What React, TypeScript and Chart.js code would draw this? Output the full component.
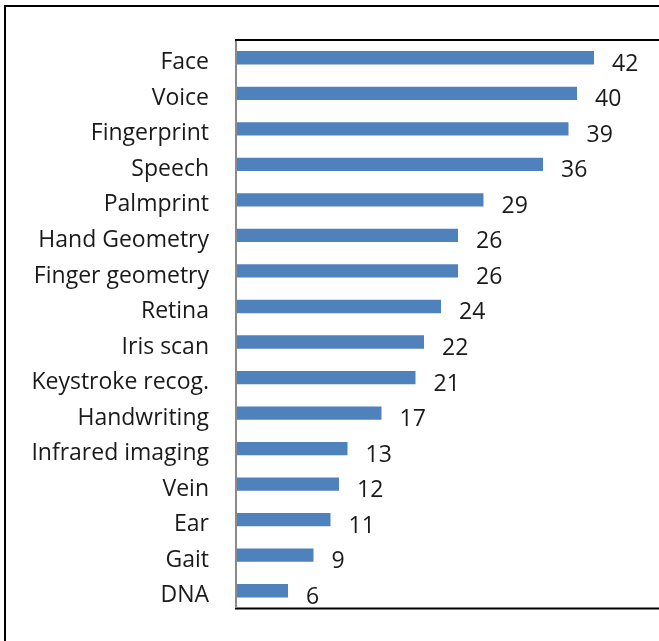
import React, { useEffect, useRef } from "react";
import { Chart, registerables } from "chart.js";

Chart.register(...registerables);

const categories = [
  "Face",
  "Voice",
  "Fingerprint",
  "Speech",
  "Palmprint",
  "Hand Geometry",
  "Finger geometry",
  "Retina",
  "Iris scan",
  "Keystroke recog.",
  "Handwriting",
  "Infrared imaging",
  "Vein",
  "Ear",
  "Gait",
  "DNA",
];
const values = [42, 40, 39, 36, 29, 26, 26, 24, 22, 21, 17, 13, 12, 11, 9, 6];

const xMin = 0;
const xMax = 50;

const FONT = "'Open Sans', 'DejaVu Sans', sans-serif";
const FONT_SIZE = 23;
const CANVAS_W = 700;
const CANVAS_H = 641;

const framePlugin = {
  id: "framePlugin",
  beforeDraw(chart: any) {
    const ctx = chart.ctx;
    ctx.save();
    ctx.fillStyle = "#ffffff";
    ctx.fillRect(0, 0, chart.width, chart.height);
    ctx.fillStyle = "#000000";
    ctx.fillRect(4, 5, 2, chart.height);
    ctx.fillRect(4, 5, chart.width, 2);
    ctx.restore();
  },
  afterDraw(chart: any) {
    const { ctx, chartArea } = chart;
    ctx.save();
    ctx.fillStyle = "#000000";
    ctx.fillRect(chartArea.left - 2, chartArea.top - 1, chart.width, 2);
    ctx.fillRect(chartArea.left - 2, chartArea.bottom - 1, chart.width, 2);
    ctx.fillStyle = "#8a8a8a";
    ctx.fillRect(chartArea.left - 2, chartArea.top + 1, 2, chartArea.bottom - chartArea.top - 2);
    ctx.restore();
  },
};

const valueLabelPlugin = {
  id: "valueLabelPlugin",
  afterDatasetsDraw(chart: any) {
    const ctx = chart.ctx;
    ctx.save();
    ctx.font = `${FONT_SIZE}px ${FONT}`;
    ctx.fillStyle = "#1a1a1a";
    ctx.textAlign = "left";
    ctx.textBaseline = "alphabetic";
    const meta = chart.getDatasetMeta(0);
    meta.data.forEach((bar: any, i: number) => {
      const v = chart.data.datasets[0].data[i];
      ctx.fillText(String(v), bar.x + 18, bar.y + 13);
    });
    ctx.restore();
  },
};

export default function App() {
  const canvasRef = useRef<HTMLCanvasElement | null>(null);

  useEffect(() => {
    document.body.style.overflow = "hidden";
    document.documentElement.style.overflow = "hidden";
    const canvas = canvasRef.current;
    if (!canvas) return;
    const chart = new Chart(canvas, {
      type: "bar",
      data: {
        labels: categories,
        datasets: [
          {
            data: values,
            backgroundColor: "#4F81BD",
            borderWidth: 0,
            barPercentage: 0.375,
            categoryPercentage: 1,
          },
        ],
      },
      options: {
        indexAxis: "y",
        animation: false,
        responsive: false,
        devicePixelRatio: 1,
        layout: {
          padding: { top: 40, bottom: CANVAS_H - 608.5, left: 0, right: CANVAS_W - 662 },
        },
        plugins: {
          legend: { display: false },
          tooltip: { enabled: false },
          title: { display: false },
        },
        scales: {
          x: {
            display: false,
            min: xMin,
            max: xMax,
          },
          y: {
            type: "category",
            grid: { display: false, drawTicks: false },
            border: { display: false },
            afterFit: (scale: any) => {
              scale.width = 237;
              scale.paddingTop = 0;
              scale.paddingBottom = 0;
            },
            ticks: {
              padding: 28,
              labelOffset: 5,
              color: "#1a1a1a",
              font: { family: FONT, size: FONT_SIZE },
              autoSkip: false,
            },
          },
        },
      },
      plugins: [framePlugin, valueLabelPlugin],
    });
    return () => chart.destroy();
  }, []);

  return (
    <div style={{ position: "absolute", left: 0, top: 0, width: CANVAS_W, height: CANVAS_H }}>
      <canvas
        ref={canvasRef}
        width={CANVAS_W}
        height={CANVAS_H}
        style={{ width: CANVAS_W, height: CANVAS_H, display: "block" }}
      />
    </div>
  );
}
